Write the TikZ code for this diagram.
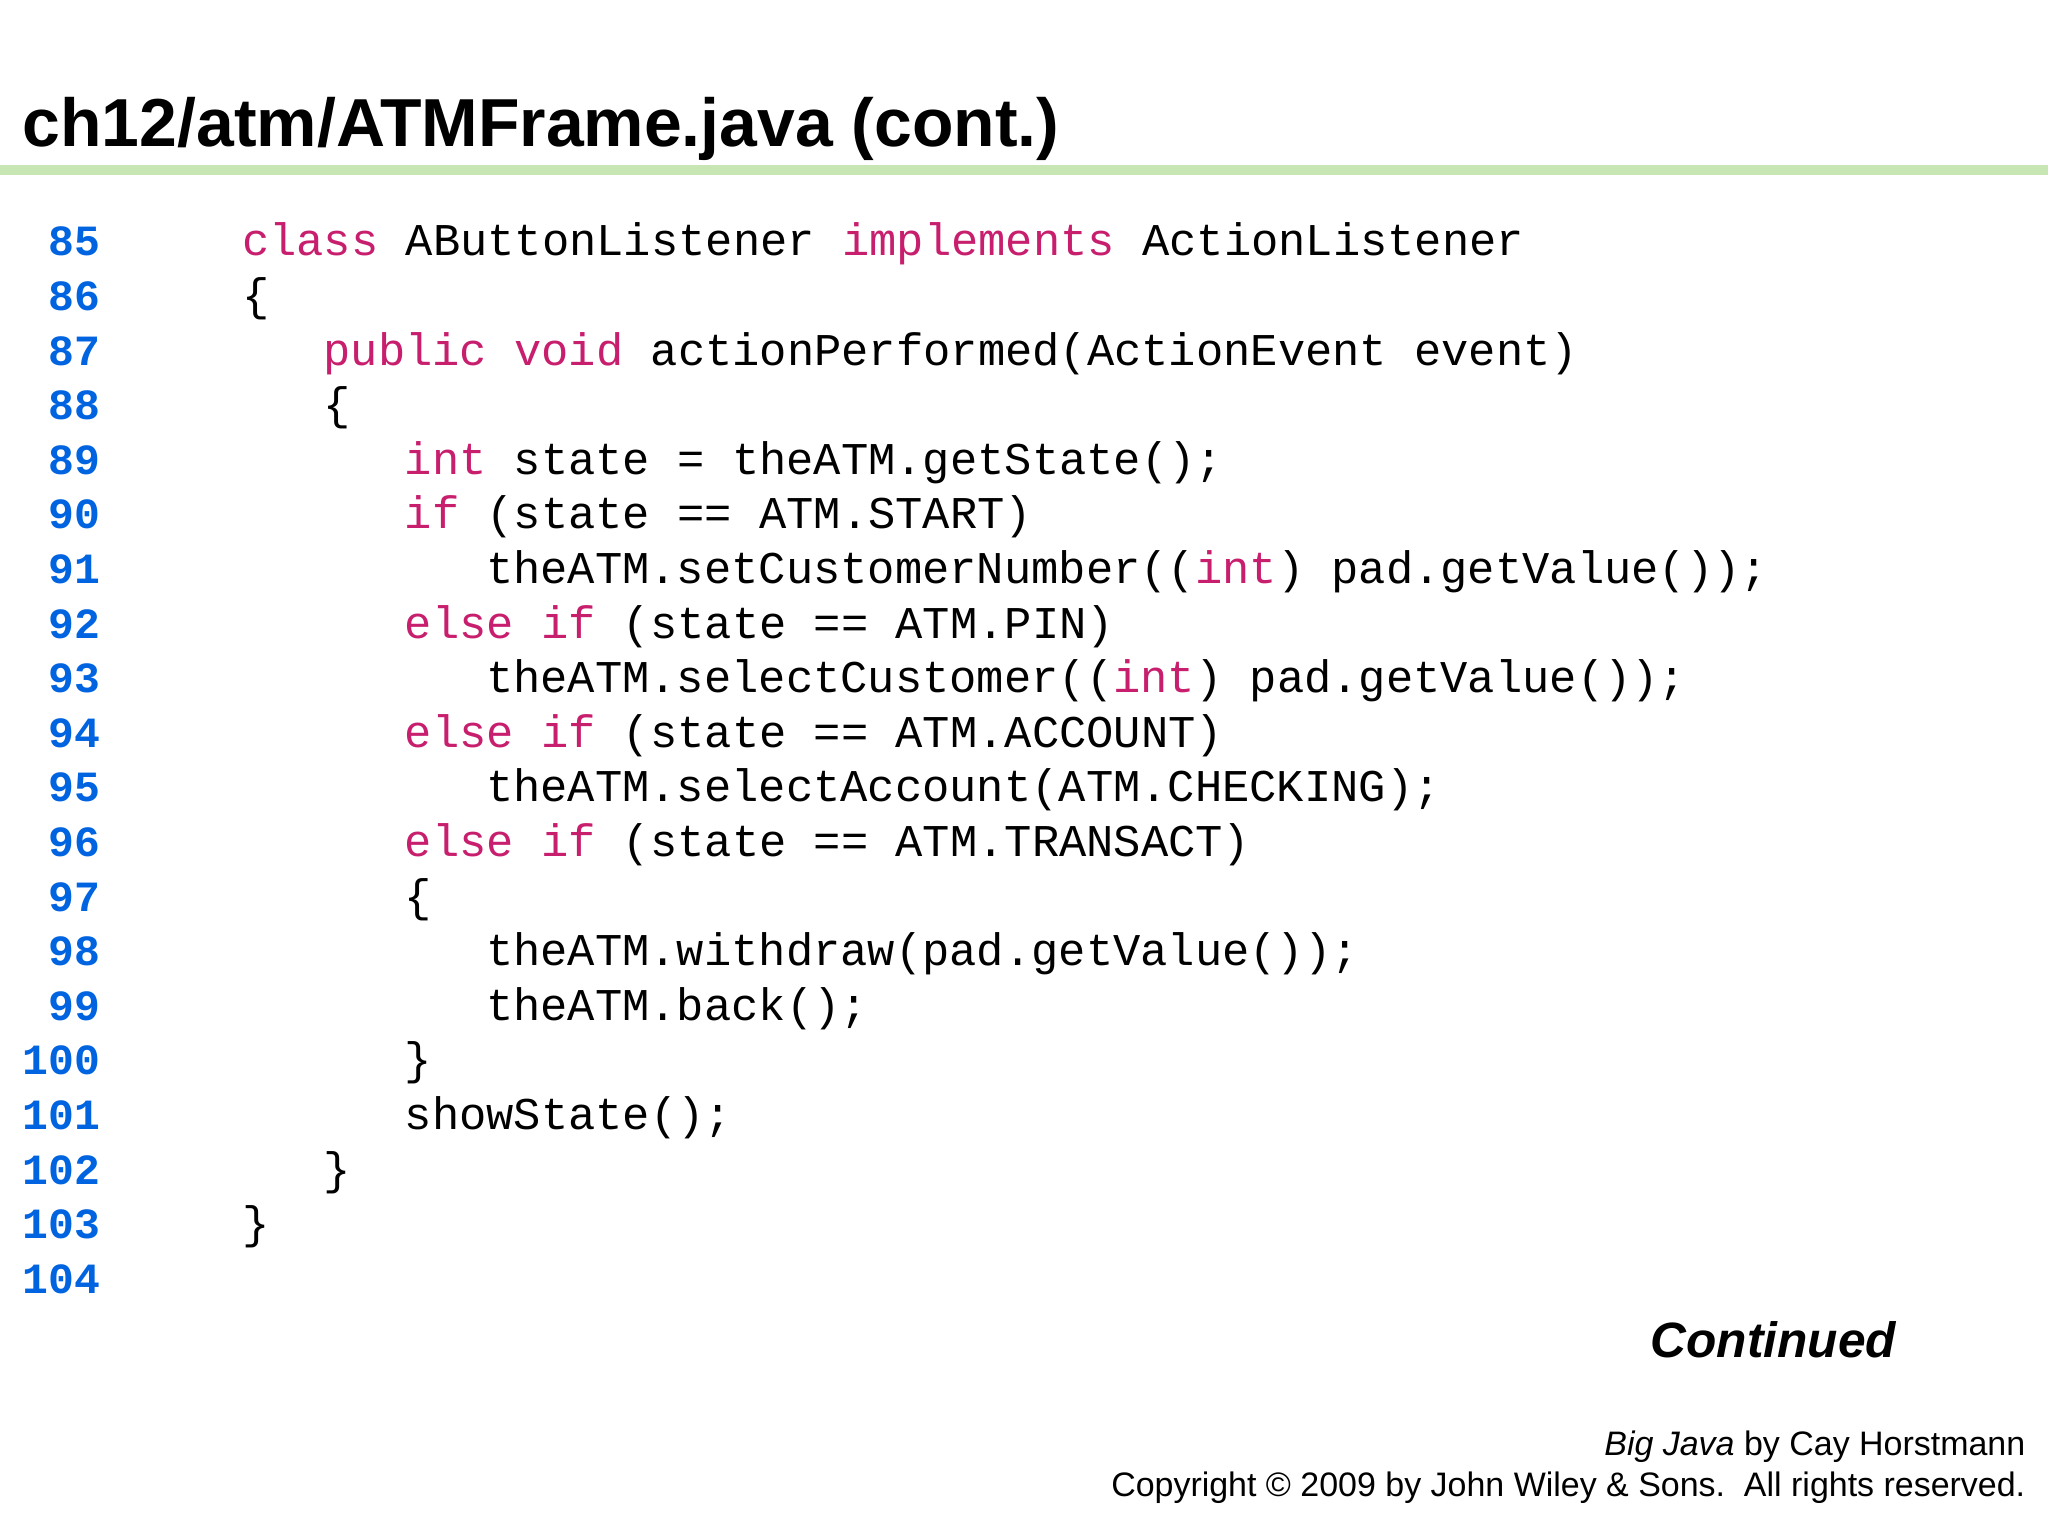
\documentclass[tikz,border=0pt]{standalone}
\usepackage{fontspec}
\setmainfont{Liberation Sans}
\setmonofont{Liberation Mono}
\definecolor{kw}{RGB}{200,30,110}
\definecolor{num}{RGB}{0,100,225}
\definecolor{bar}{RGB}{200,230,180}
\newcommand{\kw}[1]{\textcolor{kw}{#1}}
\tikzset{
  codeline/.style={anchor=base west,inner sep=0pt,font=\fontsize{17.4}{20}\ttfamily},
  numline/.style={anchor=base east,inner sep=0pt,font=\fontsize{16.5}{18}\ttfamily\bfseries,text=num},
  foot/.style={anchor=base east,inner sep=0pt,font=\fontsize{13}{16}\selectfont},
}
\begin{document}
\begin{tikzpicture}[x=0.5pt,y=-0.5pt]
\useasboundingbox (0,0) rectangle (1568,1176);
\fill[white] (0,0) rectangle (1568,1176);
\node[anchor=base west,inner sep=0pt,font=\fontsize{26}{30}\bfseries] (title) at (17,112) {ch12/atm/ATMFrame.java (cont.)};
\fill[bar] (0,126) rectangle (1568,134);
\foreach \n [count=\i from 0] in {85,...,104}
  \node[numline] (n\n) at (77,{196+41.8*\i}) {\n};
\def\cw{20.75}
\newcommand{\cl}[3]{\node[codeline] (c#1) at ({185+\cw*#2},{196+41.8*(#1-85)}) {#3};}
\cl{85}{0}{\kw{class}\ AButtonListener\ \kw{implements}\ ActionListener}
\cl{86}{0}{\{}
\cl{87}{3}{\kw{public}\ \kw{void}\ actionPerformed(ActionEvent\ event)}
\cl{88}{3}{\{}
\cl{89}{6}{\kw{int}\ state\ =\ theATM.getState();}
\cl{90}{6}{\kw{if}\ (state\ ==\ ATM.START)}
\cl{91}{9}{theATM.setCustomerNumber((\kw{int})\ pad.getValue());}
\cl{92}{6}{\kw{else}\ \kw{if}\ (state\ ==\ ATM.PIN)}
\cl{93}{9}{theATM.selectCustomer((\kw{int})\ pad.getValue());}
\cl{94}{6}{\kw{else}\ \kw{if}\ (state\ ==\ ATM.ACCOUNT)}
\cl{95}{9}{theATM.selectAccount(ATM.CHECKING);}
\cl{96}{6}{\kw{else}\ \kw{if}\ (state\ ==\ ATM.TRANSACT)}
\cl{97}{6}{\{}
\cl{98}{9}{theATM.withdraw(pad.getValue());}
\cl{99}{9}{theATM.back();}
\cl{100}{6}{\}}
\cl{101}{6}{showState();}
\cl{102}{3}{\}}
\cl{103}{0}{\}}
\node[anchor=base east,inner sep=0pt,font=\fontsize{19}{22}\bfseries\itshape] (cont) at (1452,1039) {Continued};
\node[foot] (f1) at (1551,1114) {\itshape Big Java\upshape{} by Cay Horstmann};
\node[foot] (f2) at (1551,1146) {Copyright © 2009 by John Wiley \& Sons.\ \ All rights reserved.};
\end{tikzpicture}
\end{document}
